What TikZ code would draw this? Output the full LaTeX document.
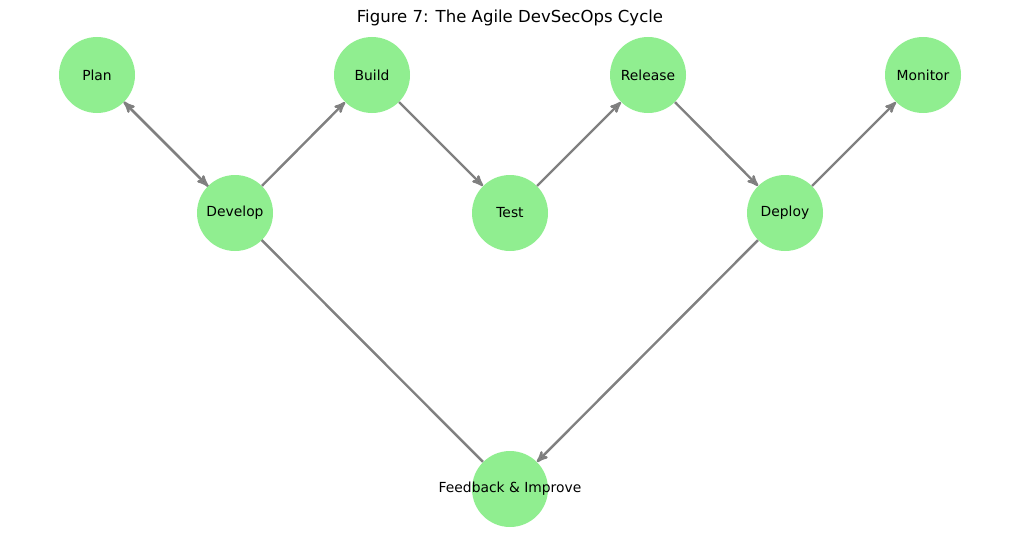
\documentclass[tikz,border=0pt]{standalone}
\usepackage{fontspec}
\setmainfont{DejaVu Sans}
\usepackage{tikz}
\usetikzlibrary{shapes}
\usetikzlibrary{positioning,arrows,backgrounds}
\definecolor{stagegreen}{HTML}{90EE90}
\tikzset{
  stage/.style={circle, fill=stagegreen, minimum size=57pt, inner sep=0pt, font=\fontsize{10.4}{12}\selectfont},
  flow/.style={draw=gray, line width=1.8pt},
}

\begin{document}
\begin{tikzpicture}[x=0.75pt, y=-0.75pt, ->, >=stealth']
        \useasboundingbox (0,0) rectangle (1019,542);
        \node[font=\fontsize{12.4}{14}\selectfont] (title) at (510,18) {Figure 7: The Agile DevSecOps Cycle};

        \node[stage] (plan) at (97,75) {Plan};
        \node[stage] (build) at (372,75) {Build};
        \node[stage] (release) at (648,75) {Release};
        \node[stage] (monitor) at (923,75) {Monitor};
        \node[stage] (develop) at (235,213) {Develop};
        \node[stage] (test) at (510,213) {Test};
        \node[stage] (deploy) at (785,213) {Deploy};
        \node[stage, label={[font=\fontsize{10.4}{12}\selectfont]center:Feedback \& Improve}] (feedback) at (510,489) {};

        \path[flow] (plan) edge (develop)
        (develop) edge (build)
        (build) edge (test)
        (test) edge (release)
        (release) edge (deploy)
        (deploy) edge (monitor)
        (deploy) edge (feedback);

        % loop back, runs behind the develop node
        \begin{scope}[on background layer]
          \path[flow, ->, >=stealth'] (feedback) edge (plan);
        \end{scope}
      \end{tikzpicture}
\end{document}
